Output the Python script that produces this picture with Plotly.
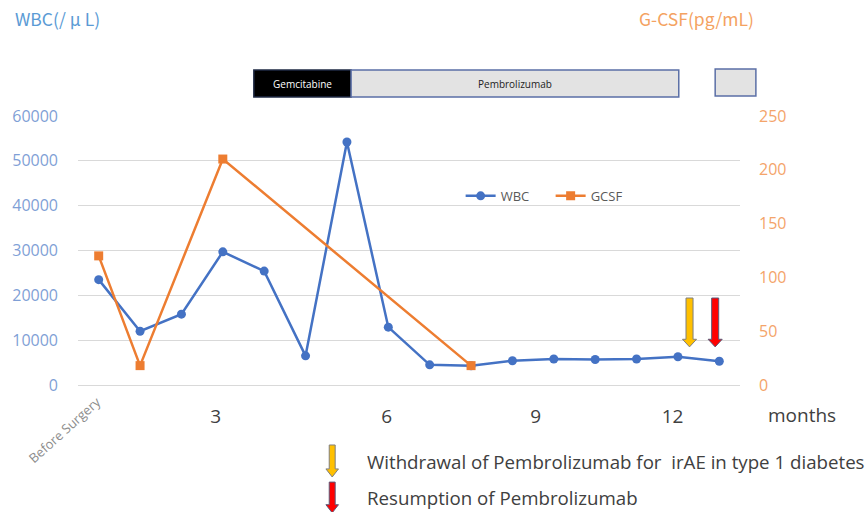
import plotly.graph_objects as go

# ---- data ----
visit_index = list(range(16))
wbc = [23500, 12000, 15800, 29700, 25400, 6500, 54200, 12900,
       4500, 4300, 5400, 5800, 5700, 5800, 6300, 5300]
gcsf = [120, 18, None, 210, None, None, None, None,
        None, 18, None, None, None, None, None, None]
month_tick_pos = [2.83, 6.96, 10.56, 13.87]
month_tick_text = ["3", "6", "9", "12"]

# treatment periods (in visit-axis units)
gem_span = (3.75, 6.1)
pembro_span = (6.1, 14.02)
# resumed pembrolizumab box sits beyond the plot edge (paper units)
pembro2_span_paper = (0.9625, 1.024)
# event arrows (visit-axis positions)
withdraw_x = 14.28
resume_x = 14.9

BLUE = "#4472C4"
ORANGE = "#ED7D31"

fig = go.Figure()
fig.add_trace(go.Scatter(
    x=visit_index, y=wbc, name="WBC", mode="lines+markers",
    line=dict(color=BLUE, width=2.5),
    marker=dict(symbol="circle", size=9, color=BLUE),
    yaxis="y"))
fig.add_trace(go.Scatter(
    x=visit_index, y=gcsf, name="GCSF", mode="lines+markers",
    connectgaps=True,
    line=dict(color=ORANGE, width=2.5),
    marker=dict(symbol="square", size=9, color=ORANGE),
    yaxis="y2"))

shapes = []
# treatment bars above plot
bar_y0, bar_y1 = 1.0706, 1.171
shapes.append(dict(type="rect", xref="x", yref="paper",
                   x0=gem_span[0], x1=gem_span[1], y0=bar_y0, y1=bar_y1,
                   fillcolor="#000000", line=dict(color="#1f2a44", width=1.5)))
shapes.append(dict(type="rect", xref="x", yref="paper",
                   x0=pembro_span[0], x1=pembro_span[1], y0=bar_y0, y1=bar_y1,
                   fillcolor="#e3e3e3", line=dict(color="#5b6fa6", width=1.5)))
shapes.append(dict(type="rect", xref="paper", yref="paper",
                   x0=pembro2_span_paper[0], x1=pembro2_span_paper[1],
                   y0=bar_y0 + 0.004, y1=bar_y1 + 0.004,
                   fillcolor="#e3e3e3", line=dict(color="#5b6fa6", width=1.5)))


def block_arrow(xc, ytop, ytip, head_h, shaft_w, head_w, xref, yref, fill, edge):
    yh = ytip + head_h
    path = (f"M {xc - shaft_w/2} {ytop} L {xc + shaft_w/2} {ytop} "
            f"L {xc + shaft_w/2} {yh} L {xc + head_w/2} {yh} L {xc} {ytip} "
            f"L {xc - head_w/2} {yh} L {xc - shaft_w/2} {yh} Z")
    return dict(type="path", path=path, xref=xref, yref=yref,
                fillcolor=fill, line=dict(color=edge, width=1))


# arrows in plot (WBC axis units)
shapes.append(block_arrow(withdraw_x, 19400, 8500, 1700, 0.17, 0.34, "x", "y", "#FFC000", "#7f7f7f"))
shapes.append(block_arrow(resume_x, 19400, 8500, 1700, 0.17, 0.34, "x", "y", "#FF0000", "#5a5a7a"))
# legend arrows below plot (paper units)
shapes.append(block_arrow(0.384, -0.223, -0.342, 0.03, 0.009, 0.019, "paper", "paper", "#FFC000", "#7f7f7f"))
shapes.append(block_arrow(0.384, -0.361, -0.475, 0.03, 0.009, 0.019, "paper", "paper", "#FF0000", "#5a5a7a"))

annotations = [
    dict(text="Gemcitabine", x=sum(gem_span) / 2, y=(bar_y0 + bar_y1) / 2,
         xref="x", yref="paper", showarrow=False, yanchor="middle", xanchor="center",
         font=dict(size=10, color="white", family="Open Sans")),
    dict(text="Pembrolizumab", x=sum(pembro_span) / 2, y=(bar_y0 + bar_y1) / 2,
         xref="x", yref="paper", showarrow=False, yanchor="middle", xanchor="center",
         font=dict(size=10, color="#222222", family="Open Sans")),
    dict(text="WBC(/ μ L)", x=-0.0975, y=1.364, xref="paper", yref="paper",
         xanchor="left", yanchor="middle", showarrow=False,
         font=dict(size=17.5, color="#5B9BD5", family="Noto Sans CJK JP")),
    dict(text="G-CSF(pg/mL)", x=0.844, y=1.364, xref="paper", yref="paper",
         xanchor="left", yanchor="middle", showarrow=False,
         font=dict(size=17.5, color="#F4A261", family="Noto Sans CJK JP")),
    dict(text="Before Surgery", x=-0.021, y=-0.167, xref="paper", yref="paper",
         textangle=-42, showarrow=False, xanchor="center", yanchor="middle",
         font=dict(size=13, color="#8c8c8c", family="Open Sans")),
    dict(text="months", x=1.094, y=-0.112, xref="paper", yref="paper",
         showarrow=False, xanchor="center", yanchor="middle",
         font=dict(size=19, color="#404040", family="Open Sans")),
    dict(text="Withdrawal of Pembrolizumab for  irAE in type 1 diabetes",
         x=0.433, y=-0.286, xref="paper", yref="paper", xanchor="left",
         yanchor="middle", showarrow=False,
         font=dict(size=18.7, color="#404040", family="Open Sans")),
    dict(text="Resumption of Pembrolizumab",
         x=0.433, y=-0.42, xref="paper", yref="paper", xanchor="left",
         yanchor="middle", showarrow=False,
         font=dict(size=18.7, color="#404040", family="Open Sans")),
]

fig.update_layout(
    width=866, height=512,
    margin=dict(l=73, r=126, t=116, b=127),
    paper_bgcolor="white", plot_bgcolor="white",
    font=dict(family="Open Sans"),
    showlegend=True,
    legend=dict(orientation="h", x=0.578, y=0.703, xanchor="left", yanchor="middle",
                bgcolor="rgba(0,0,0,0)", font=dict(size=13, color="#595959"),
                itemwidth=30, entrywidth=45, tracegroupgap=0),
    xaxis=dict(range=[-0.5, 15.5], tickmode="array", tickvals=month_tick_pos,
               ticktext=month_tick_text, showgrid=False, zeroline=False,
               showline=False, ticks="", ticklabelstandoff=18,
               tickfont=dict(size=19, color="#404040")),
    yaxis=dict(range=[0, 60000], dtick=10000, tickformat="d", showgrid=True,
               gridcolor="#d9d9d9", gridwidth=1, zeroline=True,
               zerolinecolor="#d9d9d9", zerolinewidth=1,
               ticks="", showline=False, ticklabelstandoff=19,
               tickfont=dict(size=16, color="#7F9FD6")),
    yaxis2=dict(range=[0, 250], dtick=50, overlaying="y", side="right",
                showgrid=False, zeroline=False, showline=False, ticks="",
                ticklabelstandoff=18,
                tickfont=dict(size=16, color="#F4A46A")),
    shapes=shapes,
    annotations=annotations,
)

fig.write_html("out.html", config={"displayModeBar": False},
               post_script="document.body.style.margin='0px';")
